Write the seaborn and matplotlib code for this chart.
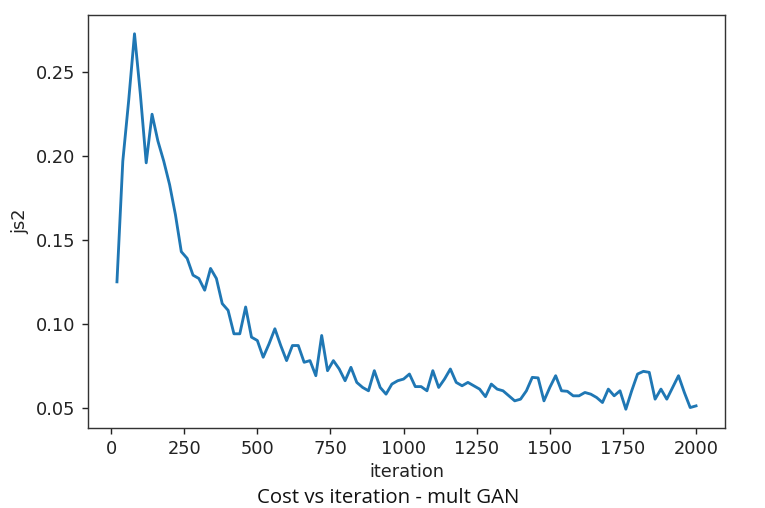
import numpy as np
import pandas as pd
import matplotlib
matplotlib.use("Agg")
import matplotlib.pyplot as plt
import seaborn as sns

iterations = list(range(20, 2001, 20))
js2 = [
    0.125, 0.197, 0.233, 0.273, 0.237, 0.196, 0.225, 0.209, 0.197, 0.183,
    0.165, 0.143, 0.139, 0.129, 0.127, 0.120, 0.133, 0.127, 0.112, 0.108,
    0.094, 0.094, 0.110, 0.092, 0.090, 0.080, 0.088, 0.097, 0.087, 0.078,
    0.087, 0.087, 0.077, 0.078, 0.069, 0.093, 0.072, 0.078, 0.073, 0.066,
    0.074, 0.065, 0.062, 0.060, 0.072, 0.062, 0.058, 0.064, 0.066, 0.067,
    0.070, 0.0625, 0.0625, 0.060, 0.072, 0.062, 0.067, 0.073, 0.065, 0.063,
    0.065, 0.063, 0.061, 0.0565, 0.064, 0.061, 0.060, 0.057, 0.054, 0.055,
    0.060, 0.068, 0.0677, 0.054, 0.062, 0.069, 0.060, 0.0597, 0.057, 0.057,
    0.059, 0.058, 0.056, 0.053, 0.061, 0.057, 0.060, 0.049, 0.060, 0.070,
    0.0716, 0.071, 0.055, 0.061, 0.055, 0.062, 0.069, 0.059, 0.050, 0.051,
]
x_ticks = [0, 250, 500, 750, 1000, 1250, 1500, 1750, 2000]
y_ticks = [0.05, 0.10, 0.15, 0.20, 0.25]
y_tick_labels = ["0.05", "0.10", "0.15", "0.20", "0.25"]
x_label = "iteration"
y_label = "js2"
title = "Cost vs iteration - mult GAN"

df = pd.DataFrame({x_label: iterations, y_label: js2})

DPI = 127.5
W, H = 765, 508
fig = plt.figure(figsize=(W / DPI, H / DPI), dpi=DPI)
ax = fig.add_axes([88 / W, (H - 428) / H, (725 - 88) / W, (428 - 15) / H])
sns.lineplot(data=df, x=x_label, y=y_label, ax=ax, color="#1f77b4", linewidth=1.6)
ax.set_xticks(x_ticks)
ax.set_yticks(y_ticks)
ax.set_yticklabels(y_tick_labels)
ax.tick_params(labelsize=10, colors="#222222")
ax.set_xlabel(x_label, fontsize=10, color="#222222", labelpad=2.5)
ax.set_ylabel(y_label, fontsize=10, color="#222222")
for s in ax.spines.values():
    s.set_color("#333333")

fig.text(0.508, 5 / H, title, ha="center", va="baseline",
         fontsize=11.5, family="Open Sans", color="#111111")

fig.savefig("out.png", dpi=DPI)
